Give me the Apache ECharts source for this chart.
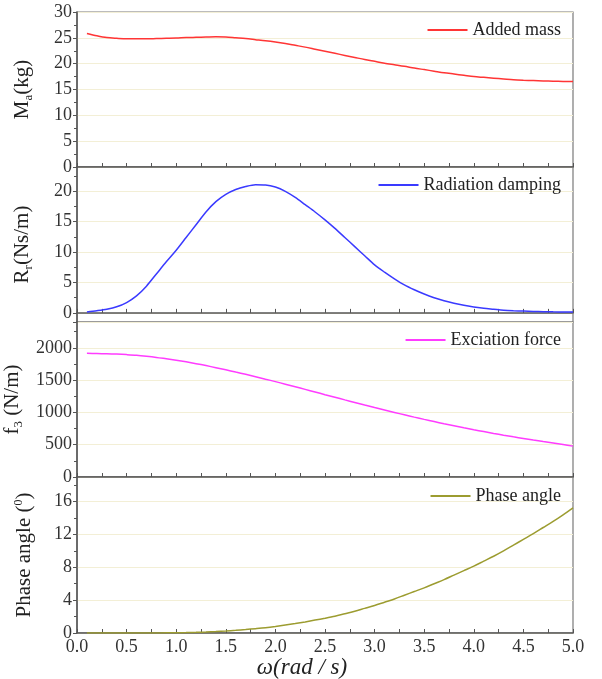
<!DOCTYPE html>
<html>
<head>
<meta charset="utf-8">
<script src="https://cdn.jsdelivr.net/npm/echarts@6/dist/echarts.min.js"></script>
<style>
  html, body { margin: 0; padding: 0; background: #fff; }
  #chart { width: 602px; height: 679px; }
</style>
</head>
<body>
<div id="chart"></div>
<script>
// frequency (rad/s)
var omega = [0.1, 0.2, 0.3, 0.4, 0.5, 0.6, 0.7, 0.8, 0.9, 1.0,
             1.1, 1.2, 1.3, 1.4, 1.5, 1.6, 1.7, 1.8, 1.9, 2.0,
             2.1, 2.2, 2.3, 2.4, 2.5, 2.6, 2.7, 2.8, 2.9, 3.0,
             3.1, 3.2, 3.3, 3.4, 3.5, 3.6, 3.7, 3.8, 3.9, 4.0,
             4.1, 4.2, 4.3, 4.4, 4.5, 4.6, 4.7, 4.8, 4.9, 5.0];
var addedMass = [25.85, 25.4, 25.05, 24.9, 24.8, 24.8, 24.8, 24.85, 24.9, 24.95,
                 25.05, 25.1, 25.15, 25.2, 25.15, 25.0, 24.85, 24.65, 24.45, 24.2,
                 23.9, 23.55, 23.2, 22.8, 22.4, 22.0, 21.6, 21.2, 20.8, 20.45,
                 20.1, 19.8, 19.5, 19.15, 18.85, 18.55, 18.25, 18.0, 17.75, 17.5,
                 17.35, 17.2, 17.05, 16.9, 16.8, 16.72, 16.65, 16.6, 16.57, 16.55];
var radiationDamping = [0.15, 0.35, 0.6, 1.0, 1.7, 2.8, 4.4, 6.4, 8.4, 10.3,
                        12.4, 14.5, 16.6, 18.3, 19.5, 20.3, 20.8, 21.1, 21.05, 20.7,
                        20.0, 19.0, 17.8, 16.6, 15.3, 13.9, 12.4, 10.9, 9.4, 7.9,
                        6.7, 5.6, 4.6, 3.8, 3.1, 2.5, 2.0, 1.6, 1.25, 0.95,
                        0.75, 0.6, 0.45, 0.36, 0.3, 0.24, 0.2, 0.17, 0.15, 0.13];
var excitationForce = [1915, 1912, 1908, 1903, 1895, 1885, 1870, 1852, 1830, 1808,
                       1783, 1755, 1725, 1693, 1660, 1625, 1590, 1553, 1515, 1477,
                       1437, 1397, 1357, 1316, 1275, 1235, 1194, 1154, 1114, 1075,
                       1037, 1000, 963, 927, 892, 858, 825, 793, 762, 732,
                       703, 675, 648, 622, 597, 573, 550, 528, 503, 478];
var phaseAngle = [0, 0, 0, 0, 0, 0, 0.01, 0.01, 0.02, 0.03,
                  0.05, 0.08, 0.12, 0.18, 0.25, 0.33, 0.42, 0.53, 0.65, 0.8,
                  0.97, 1.15, 1.35, 1.57, 1.8, 2.05, 2.35, 2.65, 3.0, 3.35,
                  3.75, 4.15, 4.6, 5.05, 5.5, 6.0, 6.5, 7.05, 7.6, 8.15,
                  8.75, 9.35, 10.0, 10.7, 11.4, 12.1, 12.85, 13.6, 14.4, 15.25];
var xTicks = ['0.0', '0.5', '1.0', '1.5', '2.0', '2.5', '3.0', '3.5', '4.0', '4.5', '5.0'];

var names = ['Added mass', 'Radiation damping', 'Exciation force', 'Phase angle'];
var colors = ['#ff3535', '#3a3aff', '#ff3cff', '#9c9c30'];
var values = [addedMass, radiationDamping, excitationForce, phaseAngle];

var serif = '"Liberation Serif", "Times New Roman", serif';
var tops = [12, 167, 322, 477];
var heights = [155, 155, 155, 156];
var yMin = [0, -1.5, 0, 0];
var yMax = [30, 24, 2400, 19];
var yStep = [5, 5, 500, 4];
var legendTops = [16, 171, 326, 482];
var yNames = [
    '{m|M}{s|a}{m|(kg)}',
    '{m|R}{s|r}{m|(Ns/m)}',
    '{m|f}{s|3}{m| (N/m)}',
    '{m|Phase angle (}{p|0}{m|)}'
];

function pairs(ys) {
    return omega.map(function (x, i) { return [x, ys[i]]; });
}

var grid = [], xAxis = [], yAxis = [], series = [], legend = [];
for (var i = 0; i < 4; i++) {
    grid.push({
        left: 77, right: 29, top: tops[i], height: heights[i],
        outerBoundsMode: 'none', containLabel: false,
        show: true, borderColor: '#7a7a7a', borderWidth: 1.2, backgroundColor: 'transparent'
    });
    var last = i === 3;
    xAxis.push({
        type: 'value', gridIndex: i, min: 0, max: 5, interval: 0.5,
        axisLine: { show: true, lineStyle: { color: '#555', width: 1.5 } },
        axisTick: { show: true, inside: true, length: 4, lineStyle: { color: '#555' } },
        minorTick: { show: true, splitNumber: 2, length: 4, lineStyle: { color: '#555' } },
        splitLine: { show: false },
        axisLabel: {
            show: last, fontFamily: serif, fontSize: 18, color: '#333', margin: 5,
            formatter: function (v) {
                var s = v.toFixed(1);
                return xTicks.indexOf(s) >= 0 ? s : '';
            }
        },
        name: last ? 'ω(rad / s)' : '',
        nameLocation: 'middle', nameGap: 19,
        nameTextStyle: {
            fontFamily: serif, fontStyle: 'italic', fontSize: 23, color: '#222',
            padding: [0, 46, 0, 0]
        }
    });
    (function (step) {
        yAxis.push({
            type: 'value', gridIndex: i, min: yMin[i], max: yMax[i],
            minInterval: step, maxInterval: step,
            axisLine: { show: true, lineStyle: { color: '#555', width: 1.5 } },
            axisTick: { show: true, inside: false, length: 4, lineStyle: { color: '#555' } },
            minorTick: { show: true, splitNumber: 2, length: 3, lineStyle: { color: '#555' } },
            splitLine: { show: true, lineStyle: { color: '#f3efd6', width: 1 } },
            axisLabel: {
                fontFamily: serif, fontSize: 18, color: '#333', margin: 5,
                formatter: function (v) {
                    var r = v / step;
                    return Math.abs(r - Math.round(r)) < 1e-6 ? String(v) : '';
                }
            },
            name: yNames[i], nameLocation: 'middle', nameRotate: 90, nameGap: 42,
            nameTextStyle: {
                fontFamily: serif, fontSize: 21, color: '#222',
                rich: {
                    m: { fontFamily: serif, fontSize: 21, color: '#222' },
                    s: { fontFamily: serif, fontSize: 13, color: '#222', padding: [12, 0, 0, 0] },
                    p: { fontFamily: serif, fontSize: 12, color: '#222', padding: [0, 0, 10, 0] }
                }
            }
        });
    })(yStep[i]);
    series.push({
        name: names[i], type: 'line', xAxisIndex: i, yAxisIndex: i,
        data: pairs(values[i]), smooth: 0.3, symbol: 'none',
        lineStyle: { color: colors[i], width: 1.5 },
        itemStyle: { color: colors[i] }
    });
    legend.push({
        data: [{ name: names[i], icon: 'rect' }], right: 36, top: legendTops[i],
        itemWidth: 40, itemHeight: 2, itemGap: 6,
        textStyle: { fontFamily: serif, fontSize: 18, color: '#222' }
    });
}

var myChart = echarts.init(document.getElementById('chart'));
myChart.setOption({
    animation: false,
    backgroundColor: '#fff',
    grid: grid,
    xAxis: xAxis,
    yAxis: yAxis,
    legend: legend,
    series: series
});
</script>
</body>
</html>
